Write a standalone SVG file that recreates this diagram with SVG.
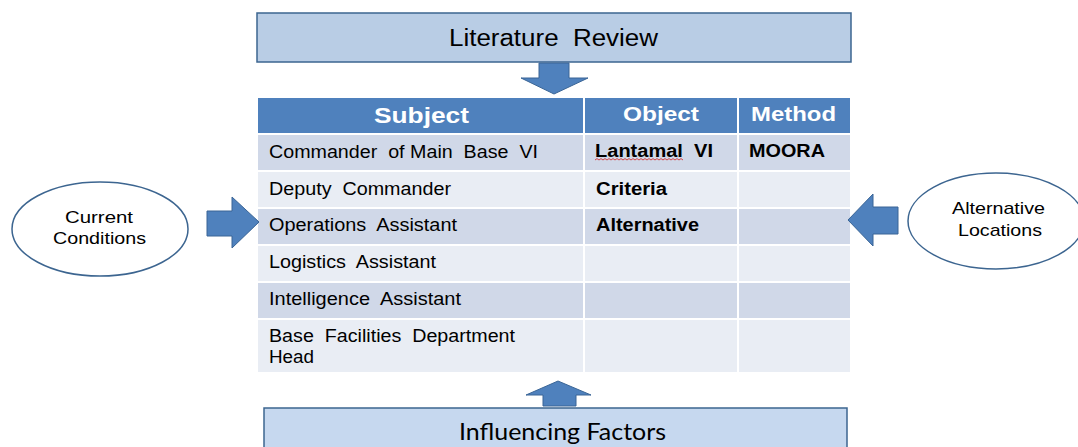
<svg xmlns="http://www.w3.org/2000/svg" width="1078" height="447" viewBox="0 0 1078 447">
  <style>
    text { white-space: pre; }
    .box { fill: #b9cde5; stroke: #3c6590; stroke-width: 1.5; }
    .box2 { fill: #c6d8ef; stroke: #3c6590; stroke-width: 1.5; }
    .arrow { fill: #4f81bd; stroke: #3a6596; stroke-width: 1; }
    .oval { fill: #ffffff; stroke: #3c6590; stroke-width: 1.5; }
    .hdr { fill: #4f81bd; }
    .dark { fill: #d0d8e8; }
    .light { fill: #e9edf4; }
    .t { font-family: "Liberation Sans", Arial, sans-serif; fill: #000; }
    .cell { font-size: 17.5px; }
    .bold { font-weight: bold; font-size: 17.5px; }
    .head { font-family: "Liberation Sans", Arial, sans-serif; font-weight: bold; fill: #fff; }
    .oval-t { font-family: "Liberation Sans", Arial, sans-serif; font-size: 17px; fill: #000; }
  </style>

  <rect width="1078" height="447" fill="#ffffff"/>

  <!-- top box -->
  <g id="literature-review">
    <rect class="box" x="257" y="13" width="594" height="49"/>
    <text class="t" x="449" y="46" font-size="23" textLength="209" lengthAdjust="spacingAndGlyphs">Literature  Review</text>
  </g>

  <!-- central table -->
  <g id="table">
    <rect class="hdr" x="258" y="98" width="325" height="35"/>
    <rect class="hdr" x="585" y="98" width="152" height="35"/>
    <rect class="hdr" x="739" y="98" width="111" height="35"/>
    <text class="head" x="374" y="123" font-size="22.5" textLength="95" lengthAdjust="spacingAndGlyphs">Subject</text>
    <text class="head" x="623" y="121" font-size="20.5" textLength="76" lengthAdjust="spacingAndGlyphs">Object</text>
    <text class="head" x="751" y="121" font-size="20.5" textLength="85" lengthAdjust="spacingAndGlyphs">Method</text>

    <rect class="dark" x="258" y="135" width="325" height="35"/>
    <rect class="dark" x="585" y="135" width="152" height="35"/>
    <rect class="dark" x="739" y="135" width="111" height="35"/>

    <rect class="light" x="258" y="172" width="325" height="35"/>
    <rect class="light" x="585" y="172" width="152" height="35"/>
    <rect class="light" x="739" y="172" width="111" height="35"/>

    <rect class="dark" x="258" y="209" width="325" height="35"/>
    <rect class="dark" x="585" y="209" width="152" height="35"/>
    <rect class="dark" x="739" y="209" width="111" height="35"/>

    <rect class="light" x="258" y="246" width="325" height="35"/>
    <rect class="light" x="585" y="246" width="152" height="35"/>
    <rect class="light" x="739" y="246" width="111" height="35"/>

    <rect class="dark" x="258" y="283" width="325" height="35"/>
    <rect class="dark" x="585" y="283" width="152" height="35"/>
    <rect class="dark" x="739" y="283" width="111" height="35"/>

    <rect class="light" x="258" y="320" width="325" height="52"/>
    <rect class="light" x="585" y="320" width="152" height="52"/>
    <rect class="light" x="739" y="320" width="111" height="52"/>

    <text class="t cell" x="269" y="157.5" textLength="269" lengthAdjust="spacingAndGlyphs">Commander  of Main  Base  VI</text>
    <text class="t cell" x="269" y="194.5" textLength="182" lengthAdjust="spacingAndGlyphs">Deputy  Commander</text>
    <text class="t cell" x="269" y="231" textLength="188" lengthAdjust="spacingAndGlyphs">Operations  Assistant</text>
    <text class="t cell" x="269" y="268" textLength="167" lengthAdjust="spacingAndGlyphs">Logistics  Assistant</text>
    <text class="t cell" x="269" y="305" textLength="192" lengthAdjust="spacingAndGlyphs">Intelligence  Assistant</text>
    <text class="t cell" x="269" y="342" textLength="246" lengthAdjust="spacingAndGlyphs">Base  Facilities  Department</text>
    <text class="t cell" x="269" y="362.5" textLength="45" lengthAdjust="spacingAndGlyphs">Head</text>

    <text class="t bold" x="595" y="157" textLength="118" lengthAdjust="spacingAndGlyphs">Lantamal  VI</text>
    <path d="M595 160 l2 -1.4 l2 1.4 l2 -1.4 l2 1.4 l2 -1.4 l2 1.4 l2 -1.4 l2 1.4 l2 -1.4 l2 1.4 l2 -1.4 l2 1.4 l2 -1.4 l2 1.4 l2 -1.4 l2 1.4 l2 -1.4 l2 1.4 l2 -1.4 l2 1.4 l2 -1.4 l2 1.4 l2 -1.4 l2 1.4 l2 -1.4 l2 1.4 l2 -1.4 l2 1.4 l2 -1.4 l2 1.4 l2 -1.4 l2 1.4 l2 -1.4 l2 1.4 l2 -1.4 l2 1.4 l2 -1.4 l2 1.4 l2 -1.4 l2 1.4 l2 -1.4 l2 1.4 l2 -1.4 l2 1.4" fill="none" stroke="#d02020" stroke-width="0.8"/>
    <text class="t bold" x="596" y="194.5" textLength="71" lengthAdjust="spacingAndGlyphs">Criteria</text>
    <text class="t bold" x="596" y="231" textLength="103" lengthAdjust="spacingAndGlyphs">Alternative</text>
    <text class="t bold" x="749" y="157" textLength="76" lengthAdjust="spacingAndGlyphs">MOORA</text>
  </g>

  <!-- side ovals -->
  <g id="current-conditions">
    <ellipse class="oval" cx="100" cy="229" rx="88" ry="47"/>
    <text class="oval-t" x="65" y="223" textLength="68" lengthAdjust="spacingAndGlyphs">Current</text>
    <text class="oval-t" x="53" y="244" textLength="93" lengthAdjust="spacingAndGlyphs">Conditions</text>
  </g>

  <g id="alternative-locations">
    <ellipse class="oval" cx="996" cy="221" rx="88" ry="48"/>
    <text class="oval-t" x="952" y="214" textLength="93" lengthAdjust="spacingAndGlyphs">Alternative</text>
    <text class="oval-t" x="958" y="236" textLength="84" lengthAdjust="spacingAndGlyphs">Locations</text>
  </g>

  <!-- bottom box -->
  <g id="influencing-factors">
    <rect class="box2" x="264" y="408" width="583" height="50"/>
    <text x="459" y="440" font-family="Lato, 'Open Sans', sans-serif" font-size="23" fill="#000" textLength="207" lengthAdjust="spacingAndGlyphs">Influencing Factors</text>
  </g>

  <!-- block arrows -->
  <g id="connectors">
    <polygon class="arrow" points="539,63 569,63 569,78 588,78 554,94 521,78 539,78"/>
    <polygon class="arrow" points="207,211 232,211 232,197 259,222 232,248 232,236 207,236"/>
    <polygon class="arrow" points="898,207 873,207 873,194 848,220 873,246 873,234 898,234"/>
    <polygon class="arrow" points="543,406 576,406 576,395 591,395 558,381 526,395 543,395"/>
  </g>
</svg>
